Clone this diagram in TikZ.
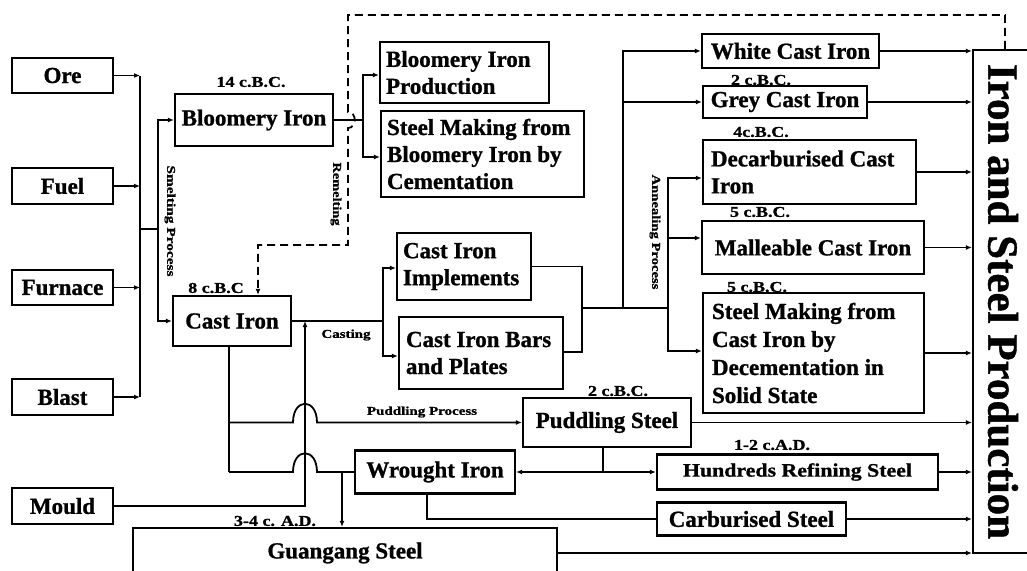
\documentclass[tikz,border=0pt]{standalone}
\usepackage{fontspec}
\setmainfont{Liberation Serif}[BoldFeatures={FakeBold=1}]
\usepackage{graphicx}
\usetikzlibrary{arrows.meta,calc}
\newcommand{\sx}[2]{\scalebox{#1}[1]{#2}}
\begin{document}
\begin{tikzpicture}[x=1pt,y=-1pt,
  line width=1.8pt,
  box/.style={draw, line width=2.2pt, inner sep=0pt, font=\fontsize{23}{27}\selectfont\bfseries, align=center},
  mbox/.style={box, align=flush left, inner xsep=#1},
  date/.style={inner sep=0pt, font=\fontsize{15}{17}\selectfont\bfseries},
  proc/.style={inner sep=0pt, font=\fontsize{12}{14}\selectfont\bfseries},
  arr/.style={-{Latex[length=6pt,width=5pt]}},
  remelt/.style={dashed, dash pattern=on 8pt off 5pt},
]
\useasboundingbox (0,0) rectangle (1027,570);

% input boxes
\node[box, minimum width=101pt, minimum height=35pt] (ore) at (62.5,75.5) {Ore};
\node[box, minimum width=101pt, minimum height=36pt] (fuel) at (62.5,186) {Fuel};
\node[box, minimum width=101pt, minimum height=35pt] (furnace) at (62.5,287.5) {Furnace};
\node[box, minimum width=101pt, minimum height=36pt] (blast) at (62.5,397) {Blast};
\node[box, minimum width=101pt, minimum height=36pt] (mould) at (62.5,506) {Mould};

% main boxes
\node[box, minimum width=158pt, minimum height=52pt] (bloom) at (254,120) {Bloomery Iron};
\node[box, minimum width=118pt, minimum height=50pt] (cast) at (232,321) {Cast Iron};
\node[mbox=6pt, text width=157pt, minimum height=61pt] (bip) at (464.5,72.5) {Bloomery Iron\\Production};
\node[mbox=6pt, text width=191pt, minimum height=86pt] (smb) at (482.5,154) {Steel Making from\\Bloomery Iron by\\Cementation};
\node[mbox=6pt, text width=122pt, minimum height=67pt] (cii) at (464,266.5) {Cast Iron\\Implements};
\node[mbox=7pt, text width=150pt, minimum height=72pt] (cib) at (481,353) {Cast Iron Bars\\and Plates};
\node[box, minimum width=177pt, minimum height=34pt] (white) at (790.5,51) {White Cast Iron};
\node[box, minimum width=164pt, minimum height=32pt] (grey) at (785,102) {Grey Cast Iron};
\node[mbox=8pt, text width=197pt, minimum height=64pt] (decarb) at (809.5,172) {Decarburised Cast\\Iron};
\node[box, minimum width=222pt, minimum height=53pt] (mall) at (813,247.5) {Malleable Cast Iron};
\node[mbox=9pt, text width=203pt, minimum height=120pt, font=\fontsize{23}{28}\selectfont\bfseries] (smc) at (813.5,353) {Steel Making from\\Cast Iron by\\Decementation in\\Solid State};
\node[box, minimum width=168pt, minimum height=49pt] (pudd) at (607,422.5) {Puddling Steel};
\node[box, minimum width=160pt, minimum height=43pt] (wrought) at (435,472) {Wrought Iron};
\node[box, minimum width=281pt, minimum height=35pt, font=\fontsize{19}{22}\selectfont\bfseries] (hund) at (797.5,472) {\sx{1.15}{Hundreds Refining Steel}};
\node[box, minimum width=189pt, minimum height=33pt] (carb) at (751.5,519) {Carburised Steel};
\node[box, minimum width=424pt, minimum height=50pt] (guang) at (345,553) {Guangang Steel};
\node[draw, line width=2.2pt, minimum width=62pt, minimum height=503pt, inner sep=0pt] (big) at (1004,301.5) {};
\node[rotate=-90, inner sep=0pt, font=\fontsize{43}{43}\selectfont\bfseries] (bigtxt) at (1003,301.5) {Iron and Steel Production};

% date labels
\node[date] (d14) at (251,82) {\sx{1.2}{14 c.B.C.}};
\node[date] (d8) at (216,288) {\sx{1.2}{8 c.B.C}};
\node[date] (dgrey) at (761,80) {\sx{1.2}{2 c.B.C.}};
\node[date] (ddec) at (761,132) {\sx{1.2}{4c.B.C.}};
\node[date] (dmal) at (760,212) {\sx{1.2}{5 c.B.C.}};
\node[date] (dsmc) at (757,287) {\sx{1.2}{5 c.B.C.}};
\node[date] (dpud) at (618,391) {\sx{1.2}{2 c.B.C.}};
\node[date] (dhun) at (772,445) {\sx{1.2}{1-2 c.A.D.}};
\node[date] (dgua) at (275,521) {\sx{1.2}{3-4 c. A.D.}};

% process labels
\node[proc, rotate=-90] (smelt) at (170,221) {\sx{1.28}{Smelting Process}};
\node[proc, rotate=-90] (remlab) at (336,194) {\sx{1.2}{Remelting}};
\node[proc, rotate=-90] (anneal) at (655,232) {\sx{1.22}{Annealing Process}};
\node[proc] (castlab) at (346,335) {\sx{1.25}{Casting}};
\node[proc] (pudlab) at (422,412) {\sx{1.25}{Puddling Process}};

% coordinates
\coordinate (bus) at (140,76);
\coordinate (sm) at (140,229);
\coordinate (smv) at (158,229);
\coordinate (bsp) at (363,120);
\coordinate (csp) at (383,321);
\coordinate (msp) at (582,308);
\coordinate (wsp) at (623,308);
\coordinate (asp) at (668,308);
\coordinate (mv) at (305,321);
\coordinate (cdown) at (229,472);
\coordinate (gd) at (342,472);
\coordinate (psp) at (603,472);
\coordinate (wd) at (427,519);
\coordinate (rm1) at (1005,15);
\coordinate (rm2) at (258,245);

% inputs to smelting
\foreach \n in {ore,fuel,furnace,blast} \draw[arr] (\n.east) -- (\n.east -| bus);
\draw (ore.east -| bus) -- (blast.east -| bus);
\draw (sm) -- (smv);
\draw[arr] (smv) |- (bloom.west);
\draw[arr] (smv) |- (cast.west);

% bloomery iron outputs
\draw (bloom.east) -- (bsp);
\draw[arr] (bsp) |- ([yshift=-2.5pt]bip.west);
\draw[arr] (bsp) |- ([yshift=-3pt]smb.west);

% casting
\draw (cast.east) -- (csp);
\draw[arr] (csp) |- ([yshift=-1.5pt]cii.west);
\draw[arr] (csp) |- ([yshift=-3pt]cib.west);
\draw (cii.east) -| (msp);
\draw ([yshift=1pt]cib.east) -| (msp);
\draw (msp) -- (asp);
\draw[arr] (wsp) |- (white.west);
\draw[arr] (wsp) |- (grey.west);
\draw[arr] (asp) |- ([yshift=-6pt]decarb.west);
\draw[arr] (asp) |- ([yshift=9.5pt]mall.west);
\draw[arr] (asp) |- ([yshift=2pt]smc.west);

% mould
\draw[arr] (mould.east) -| (mv);

% cast iron downwards
\draw (cast.south -| cdown) -- (cdown);
\draw[arr] (cdown |- pudd.west) -- (293,422.5) .. controls (293,397.5) and (317,397.5) .. (317,422.5) -- (pudd.west);
\draw (cdown) -- (293,472) .. controls (293,447) and (317,447) .. (317,472) -- (wrought.west);
\draw[arr] (gd) -- (gd |- guang.north);

% puddling steel
\draw (pudd.south -| psp) -- (psp);
\draw[arr] (psp) -- (wrought.east);
\draw[arr] (psp) -- (hund.west);

% wrought iron
\draw (wrought.south -| wd) |- (carb.west);

% outputs to Iron and Steel Production
\foreach \n in {white,grey,decarb,mall,smc,pudd,hund,carb,guang}
  \draw[arr] (\n.east) -- (\n.east -| big.west);

% remelting (dashed)
\draw[remelt, arr] (big.north -| rm1) -- (rm1) -- (348,15) -- (348,112)
  .. controls (357,112) and (357,128) .. (348,128) -- (348,245) -- (rm2) -- (rm2 |- cast.north);
\end{tikzpicture}
\end{document}
